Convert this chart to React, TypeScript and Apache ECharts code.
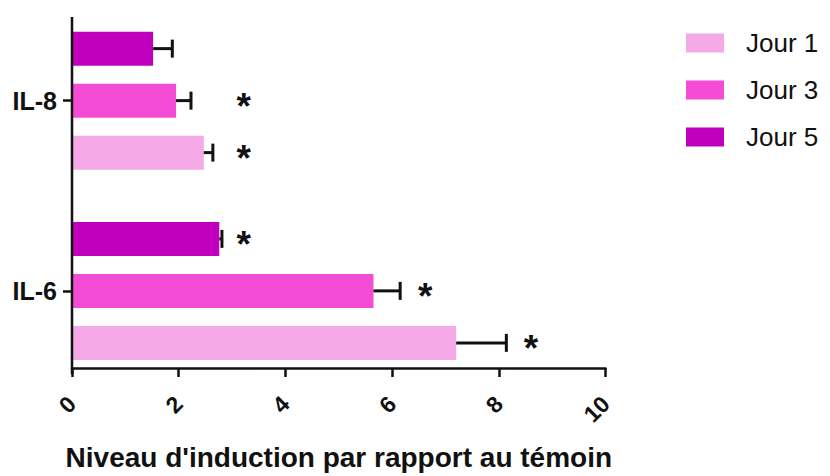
import React, { useEffect, useRef } from "react";
import * as echarts from "echarts";

const categories = ["IL-6", "IL-8"];
const seriesNames = ["Jour 1", "Jour 3", "Jour 5"];
const jour1 = [7.2, 2.47];
const jour3 = [5.65, 1.95];
const jour5 = [2.76, 1.52];
const err1 = [0.94, 0.17];
const err3 = [0.5, 0.28];
const err5 = [0.05, 0.36];
// x position (in axis units) of the significance asterisks; null = none
const star1 = [8.6, 3.22];
const star3 = [6.62, 3.22];
const star5: (number | null)[] = [3.22, null];
const xTicks = { min: 0, max: 10, interval: 2 };

const colors = ["#F5A9E6", "#F54CD5", "#C000BD"];
const FONT = "'Liberation Sans', Arial, Helvetica, sans-serif";
const BAR_W = 34;
const GAP = 18;
const STEP = BAR_W + GAP;

export default function App() {
  const ref = useRef<HTMLDivElement>(null);
  useEffect(() => {
    if (!ref.current) return;
    const chart = echarts.init(ref.current, null, { renderer: "svg" });
    const values = [jour1, jour3, jour5];
    const errs = [err1, err3, err5];
    const stars = [star1, star3, star5];
    // series drawn top-to-bottom within a category: Jour 5, Jour 3, Jour 1
    const order = [2, 1, 0];
    const barSeries = order.map((k) => ({
      name: seriesNames[k],
      type: "bar",
      barWidth: BAR_W,
      barGap: `${(GAP / BAR_W) * 100}%`,
      data: values[k],
      itemStyle: { color: colors[k] },
      z: 2,
    }));
    const errSeries = order.map((k, pos) => ({
      name: "err-" + seriesNames[k],
      type: "custom",
      coordinateSystem: "cartesian2d",
      encode: { x: 0, y: 1 },
      z: 5,
      silent: true,
      data: categories.map((_, i) => [
        values[k][i],
        i,
        errs[k][i],
        stars[k][i] == null ? -1 : stars[k][i],
      ]),
      renderItem: (params: any, api: any) => {
        const v = api.value(0);
        const c = api.value(1);
        const e = api.value(2);
        const s = api.value(3);
        const center = api.coord([v, c]);
        const y = center[1] + (pos - 1) * STEP;
        const end = api.coord([v + e, c])[0];
        const children: any[] = [
          {
            type: "line",
            shape: { x1: center[0], y1: y, x2: end, y2: y },
            style: { stroke: "#111", lineWidth: 3 },
          },
          {
            type: "line",
            shape: { x1: end, y1: y - 9, x2: end, y2: y + 9 },
            style: { stroke: "#111", lineWidth: 3 },
          },
        ];
        if (s >= 0) {
          children.push({
            type: "text",
            x: api.coord([s, c])[0],
            y: y + 6,
            style: {
              text: "*",
              font: `bold 37px ${FONT}`,
              align: "center",
              verticalAlign: "middle",
              fill: "#111",
            },
          });
        }
        return { type: "group", children };
      },
    }));

    chart.setOption({
      animation: false,
      textStyle: { fontFamily: FONT },
      legend: {
        data: seriesNames,
        orient: "vertical",
        left: 686,
        top: 30,
        padding: 0,
        itemWidth: 38,
        itemHeight: 19,
        itemGap: 21,
        icon: "rect",
        textStyle: {
          fontSize: 26,
          color: "#111",
          fontFamily: FONT,
          lineHeight: 19,
          padding: [0, 0, 0, 17],
        },
      },
      grid: { left: 72, right: 224.4, top: 5.5, bottom: 85 },
      xAxis: {
        type: "value",
        min: xTicks.min,
        max: xTicks.max,
        interval: xTicks.interval,
        offset: -18,
        name: "Niveau d'induction par rapport au témoin",
        nameLocation: "middle",
        nameGap: 75,
        nameTextStyle: {
          fontSize: 28,
          fontWeight: "bold",
          color: "#111",
          fontFamily: FONT,
        },
        axisLine: { show: true, lineStyle: { color: "#111", width: 2.5 } },
        axisTick: { show: true, length: 9, lineStyle: { color: "#111", width: 2.5 } },
        splitLine: { show: false },
        axisLabel: {
          rotate: 45,
          fontSize: 23,
          fontWeight: "bold",
          color: "#111",
          margin: 32,
          fontFamily: FONT,
        },
      },
      yAxis: {
        type: "category",
        data: categories,
        axisLine: { show: false },
        axisTick: {
          show: true,
          alignWithLabel: true,
          length: 9,
          lineStyle: { color: "#111", width: 2.5 },
        },
        axisLabel: {
          fontSize: 25,
          fontWeight: "bold",
          color: "#111",
          margin: 15,
          fontFamily: FONT,
        },
      },
      series: [...barSeries, ...errSeries],
    });

    const x0 = chart.convertToPixel({ xAxisIndex: 0 }, 0) as number;
    const axisY = 476 - 85 - 18;
    chart.setOption({
      graphic: [
        {
          type: "line",
          shape: { x1: x0, y1: 17, x2: x0, y2: axisY + 1.25 },
          style: { stroke: "#111", lineWidth: 2.5 },
          z: 10,
        },
      ],
    });
    return () => chart.dispose();
  }, []);
  return (
    <div
      ref={ref}
      style={{ position: "fixed", left: 0, top: 0, width: 830, height: 476, background: "#fff" }}
    />
  );
}
